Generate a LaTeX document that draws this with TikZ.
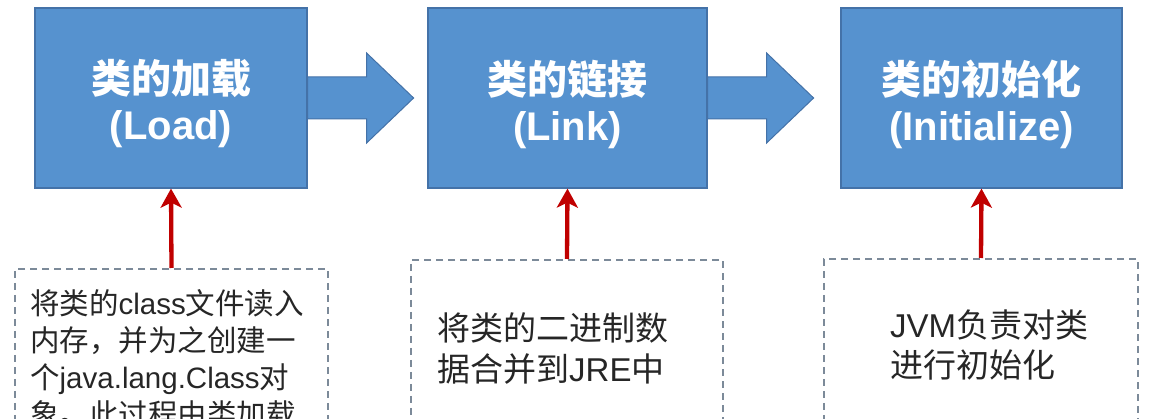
\documentclass[tikz,border=0pt]{standalone}
\usepackage{fontspec}
\setmainfont{Noto Sans CJK SC}
\newfontfamily\lat{Liberation Sans}
\usetikzlibrary{arrows.meta,calc}
\definecolor{boxblue}{HTML}{5692CF}
\definecolor{boxedge}{HTML}{4472A8}
\definecolor{arrowred}{HTML}{C00000}
\definecolor{dashgray}{HTML}{7C8A99}
\definecolor{notecolor}{HTML}{262626}
\tikzset{
  stage/.style={fill=boxblue,draw=boxedge,line width=1.2pt,minimum height=180pt},
  stagetitle/.style={text=white,align=center,inner sep=0pt,font=\bfseries\fontsize{40}{46}\selectfont},
  notebox/.style={draw=dashgray,dash pattern=on 7pt off 5pt,line width=2pt,minimum height=200pt,anchor=north},
  notetext/.style={anchor=north west,inner sep=0pt,align=left,text=notecolor},
  redarrow/.style={draw=arrowred,line width=4.3pt,-{Stealth[length=19pt,width=21pt,inset=5pt]}}
}
\begin{document}
\begin{tikzpicture}[x=1pt,y=-1pt]
\useasboundingbox (0,0) rectangle (1149,419);
\clip (0,0) rectangle (1149,419);
\node[stage,minimum width=272pt] (load) at (171,98) {};
\node[stage,minimum width=279pt] (link) at (567.5,98) {};
\node[stage,minimum width=281pt] (init) at (981.5,98) {};
\node[stagetitle] (loadtitle) at ($(load)+(0,6)$) {类的加载\\{\lat (Load)}};
\node[stagetitle] (linktitle) at ($(link)+(0,6)$) {类的链接\\{\lat (Link)}};
\node[stagetitle] (inittitle) at ($(init)+(0,6)$) {类的初始化\\{\lat (Initialize)}};
\foreach \a/\b in {load/link,link/init}
  \filldraw[fill=boxblue,draw=boxedge,line width=1pt] ($(\a.east)+(0,-21)$) -- ++(59,0) -- ++(0,-24) -- ++(47,45) -- ++(-47,45) -- ++(0,-24) -- ++(-59,0) -- cycle;
\node[notebox,minimum width=313pt] (loadnote) at (171.5,268) {};
\node[notebox,minimum width=312pt] (linknote) at (567,259) {};
\node[notebox,minimum width=314pt] (initnote) at (981,258) {};
\node[notetext,font=\fontsize{29.5}{37}\selectfont] (loadtext) at (30,289) {将类的{\lat class}文件读入\\内存，并为之创建一\\个{\lat java.lang.Class}对\\象。此过程由类加载};
\node[notetext,font=\fontsize{33}{41}\selectfont] (linktext) at (437,312) {将类的二进制数\\据合并到{\lat JRE}中};
\node[notetext,font=\fontsize{33}{40}\selectfont] (inittext) at (890,310) {{\lat JVM}负责对类\\进行初始化};
\foreach \n in {load,link,init}
  \draw[redarrow] (\n note.north) -- (\n.south);
\end{tikzpicture}
\end{document}
